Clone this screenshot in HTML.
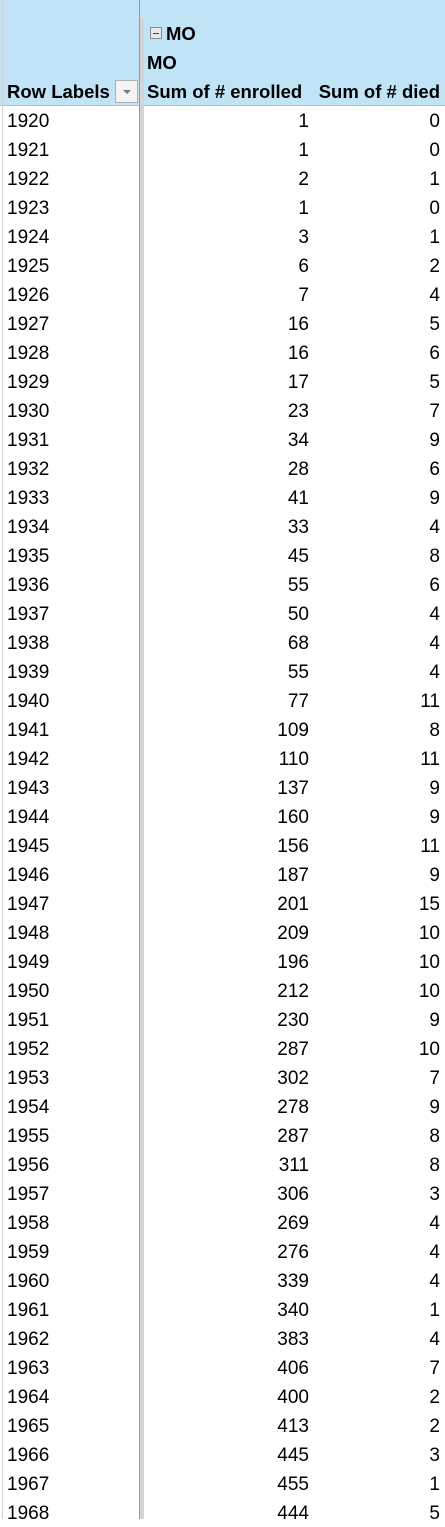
<!DOCTYPE html>
<html><head><meta charset="utf-8"><style>
body{margin:0;width:445px;height:1519px;overflow:hidden;background:#fff;font-family:"Liberation Sans",sans-serif;font-size:19px;color:#000;position:relative}
.hdr{position:absolute;left:0;top:0;width:445px;height:105px;background:#c0e4f5;border-bottom:1px solid #9fc7da}
.vline{position:absolute;left:139px;top:0;width:1px;height:1519px;background:#9a9a9a}
.gbar{position:absolute;left:140px;top:18px;width:4px;height:1501px;background:#d4d4d4}
.lgrid{position:absolute;left:2px;top:0;width:1px;height:1519px;background:#d0d0d0}
.b{font-weight:bold;position:absolute;font-size:18.5px}
.row{position:absolute;left:0;width:445px;height:29px}
.row span{position:absolute;top:5px}
.y{left:7px}.e{right:136px}.d{right:5px}
</style></head><body>
<div class="hdr"></div>
<div class="lgrid"></div>
<div class="vline"></div>
<div class="gbar"></div>
<div style="position:absolute;left:150px;top:27px;width:12px;height:12px;border:1px solid #8a8a8a;background:#e8e8e8;box-sizing:border-box"><div style="position:absolute;left:2px;top:5px;width:6px;height:1px;background:#444"></div></div>
<div class="b" style="left:166px;top:23px">MO</div>
<div class="b" style="left:147px;top:52px">MO</div>
<div class="b" style="left:7px;top:81px">Row Labels</div>
<div style="position:absolute;left:115px;top:80px;width:23px;height:23px;border:1px solid #b0b0b0;background:#f4f4f4;box-sizing:border-box"><div style="position:absolute;left:7px;top:9px;border-left:4px solid transparent;border-right:4px solid transparent;border-top:4px solid #777"></div></div>
<div class="b" style="left:147px;top:81px">Sum of # enrolled</div>
<div class="b" style="right:5px;top:81px">Sum of # died</div>
<div id="rows"></div>
<script>
const years=[1920,1921,1922,1923,1924,1925,1926,1927,1928,1929,1930,1931,1932,1933,1934,1935,1936,1937,1938,1939,1940,1941,1942,1943,1944,1945,1946,1947,1948,1949,1950,1951,1952,1953,1954,1955,1956,1957,1958,1959,1960,1961,1962,1963,1964,1965,1966,1967,1968];
const enrolled=[1,1,2,1,3,6,7,16,16,17,23,34,28,41,33,45,55,50,68,55,77,109,110,137,160,156,187,201,209,196,212,230,287,302,278,287,311,306,269,276,339,340,383,406,400,413,445,455,444];
const died=[0,0,1,0,1,2,4,5,6,5,7,9,6,9,4,8,6,4,4,4,11,8,11,9,9,11,9,15,10,10,10,9,10,7,9,8,8,3,4,4,4,1,4,7,2,2,3,1,5];
const c=document.getElementById('rows');
years.forEach((y,i)=>{
const r=document.createElement('div');r.className='row';r.style.top=(106+i*29)+'px';


r.innerHTML='<span class="y">'+y+'</span><span class="e">'+enrolled[i]+'</span><span class="d">'+died[i]+'</span>';
c.appendChild(r);});
</script>
</body></html>
